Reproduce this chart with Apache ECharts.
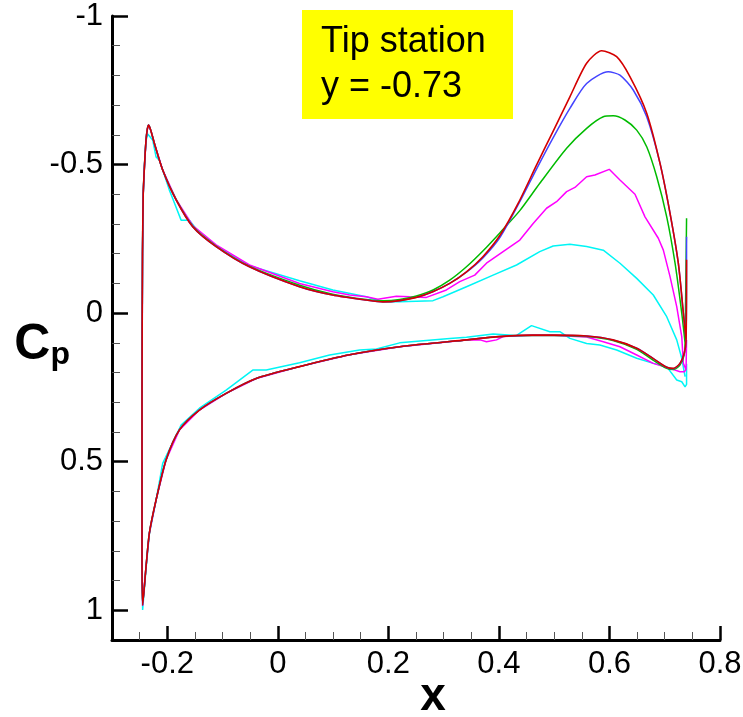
<!DOCTYPE html>
<html>
<head>
<meta charset="utf-8">
<script src="https://cdn.jsdelivr.net/npm/echarts@6/dist/echarts.min.js"></script>
<style>html,body{margin:0;padding:0;background:#fff;}#c{width:743px;height:717px;}</style>
</head>
<body>
<div id="c"></div>
<script>
// ---- axis ticks ----
const xMajorTicks = [-0.2, 0, 0.2, 0.4, 0.6, 0.8];
const xMinorTicks = [-0.25, -0.15, -0.1, -0.05, 0.05, 0.1, 0.15, 0.25, 0.3, 0.35, 0.45, 0.5, 0.55, 0.65, 0.7, 0.75];
const yMajorTicks = [-1, -0.5, 0, 0.5, 1];
const yMinorTicks = [-0.9, -0.8, -0.7, -0.6, -0.4, -0.3, -0.2, -0.1, 0.1, 0.2, 0.3, 0.4, 0.6, 0.7, 0.8, 0.9];

// ---- data: [x, Cp] ----
// red
const redLower = [[-0.2446,0.982],[-0.2384,0.853],[-0.2324,0.74],[-0.2203,0.629],[-0.2022,0.494],[-0.178,0.393],[-0.1418,0.326],[-0.0935,0.27],[-0.0391,0.22],[0.0393,0.18],[0.13,0.14],[0.2205,0.113],[0.3413,0.09],[0.4016,0.079],[0.4614,0.074],[0.4977,0.074],[0.5587,0.077],[0.6063,0.09],[0.6493,0.118],[0.6788,0.152],[0.7036,0.182],[0.7156,0.186],[0.7275,0.169],[0.7353,0.135],[0.7386,0.09]];
const redUpper = [[-0.2446,0.982],[-0.2457,0.8],[-0.2457,0.3],[-0.2448,-0.2],[-0.2435,-0.4],[-0.2413,-0.493],[-0.2384,-0.583],[-0.236,-0.62],[-0.2337,-0.633],[-0.229,-0.61],[-0.2234,-0.572],[-0.2083,-0.482],[-0.184,-0.381],[-0.154,-0.291],[-0.1116,-0.224],[-0.0513,-0.156],[0.0393,-0.089],[0.0991,-0.061],[0.16,-0.044],[0.19,-0.038],[0.2205,-0.042],[0.2507,-0.053],[0.2803,-0.072],[0.311,-0.1],[0.3413,-0.139],[0.371,-0.19],[0.402,-0.262],[0.435,-0.37],[0.468,-0.498],[0.498,-0.612],[0.5284,-0.728],[0.5587,-0.841],[0.586,-0.883],[0.613,-0.863],[0.637,-0.796],[0.6674,-0.673],[0.6915,-0.504],[0.7096,-0.336],[0.7246,-0.168],[0.7337,0.0],[0.7386,0.09]];
const redTE = [0.7395, -0.18];
// blue
const blueLower = [[-0.2446,0.982],[-0.2384,0.853],[-0.2324,0.74],[-0.2203,0.629],[-0.2022,0.494],[-0.178,0.393],[-0.1418,0.326],[-0.0935,0.27],[-0.0391,0.22],[0.0393,0.18],[0.13,0.14],[0.2205,0.113],[0.3413,0.09],[0.4016,0.079],[0.4614,0.074],[0.4977,0.074],[0.5587,0.077],[0.6063,0.09],[0.6493,0.118],[0.6788,0.152],[0.7036,0.183],[0.7156,0.187],[0.7275,0.17],[0.7353,0.136],[0.7386,0.09]];
const blueUpper = [[-0.2446,0.982],[-0.2457,0.8],[-0.2457,0.3],[-0.2448,-0.2],[-0.2435,-0.4],[-0.2413,-0.493],[-0.2384,-0.583],[-0.236,-0.62],[-0.2337,-0.633],[-0.229,-0.61],[-0.2234,-0.572],[-0.2083,-0.482],[-0.184,-0.381],[-0.154,-0.291],[-0.1116,-0.224],[-0.0513,-0.156],[0.0393,-0.089],[0.0991,-0.061],[0.16,-0.044],[0.19,-0.038],[0.2205,-0.042],[0.2507,-0.053],[0.2803,-0.072],[0.311,-0.1],[0.3413,-0.138],[0.371,-0.186],[0.402,-0.255],[0.4378,-0.375],[0.468,-0.485],[0.498,-0.59],[0.5284,-0.689],[0.5587,-0.773],[0.5978,-0.812],[0.619,-0.801],[0.643,-0.751],[0.6674,-0.661],[0.6915,-0.504],[0.7096,-0.336],[0.7246,-0.168],[0.7337,0.0],[0.7386,0.09]];
const blueTE = [0.7395, -0.257];
// green
const greenLower = [[-0.2446,0.982],[-0.2384,0.853],[-0.2324,0.74],[-0.2203,0.629],[-0.2022,0.494],[-0.178,0.393],[-0.1418,0.326],[-0.0935,0.27],[-0.0391,0.22],[0.0393,0.18],[0.13,0.14],[0.2205,0.113],[0.3413,0.09],[0.4016,0.079],[0.4614,0.075],[0.4977,0.075],[0.5587,0.079],[0.6063,0.092],[0.6493,0.122],[0.6788,0.158],[0.7036,0.186],[0.7156,0.19],[0.7275,0.175],[0.7353,0.14],[0.7368,0.10]];
const greenUpper = [[-0.2446,0.982],[-0.2457,0.8],[-0.2457,0.3],[-0.2448,-0.2],[-0.2435,-0.4],[-0.2413,-0.493],[-0.2384,-0.583],[-0.236,-0.62],[-0.2337,-0.633],[-0.229,-0.61],[-0.2234,-0.572],[-0.2083,-0.482],[-0.184,-0.383],[-0.154,-0.293],[-0.1116,-0.226],[-0.0513,-0.158],[0.0393,-0.094],[0.0991,-0.064],[0.16,-0.046],[0.19,-0.042],[0.2205,-0.046],[0.2507,-0.058],[0.2808,-0.078],[0.311,-0.111],[0.3413,-0.156],[0.3714,-0.21],[0.4016,-0.27],[0.4378,-0.345],[0.474,-0.437],[0.5225,-0.555],[0.5587,-0.622],[0.5888,-0.661],[0.6069,-0.664],[0.628,-0.65],[0.6493,-0.616],[0.6674,-0.56],[0.6855,-0.459],[0.7036,-0.324],[0.7187,-0.168],[0.7308,0.0],[0.7368,0.10]];
const greenTE = [0.7395, -0.319];
// magenta
const magentaLower = [[-0.2446,0.985],[-0.2384,0.853],[-0.2324,0.74],[-0.2203,0.629],[-0.2022,0.494],[-0.178,0.393],[-0.1418,0.326],[-0.0935,0.27],[-0.0391,0.22],[0.0393,0.18],[0.13,0.14],[0.2205,0.113],[0.3413,0.09],[0.366,0.09],[0.3775,0.096],[0.3957,0.09],[0.4076,0.079],[0.4614,0.074],[0.5043,0.075],[0.5587,0.08],[0.5888,0.096],[0.619,0.113],[0.6493,0.141],[0.6793,0.169],[0.7096,0.186],[0.7277,0.197],[0.7355,0.197],[0.7386,0.19]];
const magentaUpper = [[-0.2446,0.985],[-0.2457,0.8],[-0.2457,0.3],[-0.2448,-0.2],[-0.2435,-0.4],[-0.2413,-0.493],[-0.2384,-0.583],[-0.236,-0.62],[-0.2337,-0.633],[-0.229,-0.61],[-0.2234,-0.572],[-0.2083,-0.482],[-0.184,-0.383],[-0.154,-0.295],[-0.1116,-0.23],[-0.0513,-0.162],[0.0393,-0.1],[0.0996,-0.072],[0.13,-0.061],[0.16,-0.055],[0.181,-0.047],[0.2145,-0.057],[0.2386,-0.055],[0.2688,-0.053],[0.305,-0.078],[0.3292,-0.106],[0.3563,-0.128],[0.3775,-0.168],[0.4076,-0.207],[0.4378,-0.246],[0.462,-0.302],[0.4862,-0.353],[0.5043,-0.375],[0.5225,-0.409],[0.5375,-0.423],[0.5587,-0.459],[0.5737,-0.465],[0.5996,-0.484],[0.619,-0.448],[0.6462,-0.40],[0.6643,-0.324],[0.6884,-0.252],[0.6975,-0.212],[0.7096,-0.123],[0.7217,-0.022],[0.7308,0.079],[0.7337,0.169],[0.7386,0.19]];
const magentaTE = [0.7395, 0.09];
// cyan
const cyanLower = [[-0.2446,0.999],[-0.2384,0.86],[-0.2322,0.74],[-0.2203,0.63],[-0.2083,0.5055],[-0.175,0.377],[-0.1418,0.32],[-0.0935,0.259],[-0.0453,0.1915],[-0.021,0.1915],[0.0393,0.167],[0.0937,0.141],[0.148,0.124],[0.1783,0.121],[0.2205,0.10],[0.311,0.085],[0.3413,0.081],[0.3895,0.07],[0.4319,0.075],[0.459,0.042],[0.4922,0.0626],[0.5103,0.0626],[0.5284,0.085],[0.5587,0.102],[0.5826,0.107],[0.613,0.124],[0.6493,0.152],[0.6793,0.169],[0.7036,0.18],[0.7217,0.225],[0.7308,0.231],[0.7368,0.248],[0.7395,0.24]];
const cyanUpper = [[-0.2446,0.999],[-0.2457,0.8],[-0.2457,0.3],[-0.2448,-0.2],[-0.2435,-0.4],[-0.2413,-0.5],[-0.2384,-0.58],[-0.2355,-0.603],[-0.2337,-0.605],[-0.2264,-0.583],[-0.2203,-0.526],[-0.2143,-0.515],[-0.1962,-0.414],[-0.1902,-0.386],[-0.175,-0.313],[-0.16,-0.313],[-0.1418,-0.269],[-0.1297,-0.252],[-0.1116,-0.225],[-0.0513,-0.16],[0.0393,-0.109],[0.0996,-0.078],[0.16,-0.055],[0.19,-0.038],[0.2205,-0.038],[0.2808,-0.042],[0.2989,-0.055],[0.3413,-0.089],[0.3895,-0.128],[0.4319,-0.162],[0.4739,-0.207],[0.4982,-0.226],[0.5284,-0.232],[0.5587,-0.224],[0.5888,-0.212],[0.619,-0.168],[0.6493,-0.117],[0.6793,-0.061],[0.7036,0.012],[0.7217,0.09],[0.7308,0.152],[0.7368,0.214]];
const cyanTE = [0.7395, 0.17];

function loop(te, lower, upper) {
  return [te].concat(lower.slice().reverse(), upper);
}

const chart = echarts.init(document.getElementById('c'), null, {renderer: 'canvas'});
const FONT = '"Liberation Sans", Arial, Helvetica, sans-serif';
const lineSeries = (name, color, data, w, smooth) => ({
  name: name, type: 'line', data: data, showSymbol: false, symbol: 'none', smooth: smooth,
  lineStyle: {color: color, width: w}, itemStyle: {color: color},
  xAxisIndex: 0, yAxisIndex: 0, animation: false, clip: true, silent: true
});

const option = {
  animation: false,
  grid: {left: 112, right: 23, top: 16, bottom: 77, containLabel: false, outerBoundsMode: 'none'},
  xAxis: [
    {
      type: 'value', min: -0.3, max: 0.8, position: 'bottom',
      axisLine: {show: true, onZero: false, lineStyle: {color: '#000', width: 3}},
      axisTick: {show: true, inside: true, length: 14, customValues: xMajorTicks, lineStyle: {color: '#000', width: 2.5}},
      axisLabel: {show: true, customValues: xMajorTicks, margin: 9, color: '#000', fontSize: 31, fontFamily: FONT,
        formatter: v => String(Math.round(v * 10) / 10)},
      splitLine: {show: false},
      name: 'x', nameLocation: 'middle', nameGap: 34, nameMoveOverlap: false,
      nameTextStyle: {fontSize: 46, fontWeight: 'bold', color: '#000', fontFamily: FONT, padding: [0, 0, 0, 34]}
    },
    {
      type: 'value', min: -0.3, max: 0.8, position: 'bottom',
      axisLine: {show: false, onZero: false},
      axisTick: {show: true, inside: true, length: 8, customValues: xMinorTicks, lineStyle: {color: '#555', width: 1}},
      axisLabel: {show: false},
      splitLine: {show: false}
    }
  ],
  yAxis: [
    {
      type: 'value', min: -1, max: 1.1, inverse: true, position: 'left',
      axisLine: {show: true, onZero: false, lineStyle: {color: '#000', width: 3}},
      axisTick: {show: true, inside: true, length: 16, customValues: yMajorTicks, lineStyle: {color: '#000', width: 2.5}},
      axisLabel: {show: true, customValues: yMajorTicks, margin: 9, color: '#000', fontSize: 31, fontFamily: FONT,
        formatter: v => String(Math.round(v * 10) / 10)},
      splitLine: {show: false},
      name: '{c|C}{p|p}', nameLocation: 'middle', nameGap: 42, nameRotate: 0, nameMoveOverlap: false,
      nameTextStyle: {
        color: '#000', fontFamily: FONT, padding: [34, 0, 0, 0],
        rich: {
          c: {fontSize: 50, fontWeight: 'bold', fontFamily: FONT, color: '#000'},
          p: {fontSize: 32, fontWeight: 'bold', fontFamily: FONT, color: '#000', verticalAlign: 'bottom', padding: [20, 0, 0, 0]}
        }
      }
    },
    {
      type: 'value', min: -1, max: 1.1, inverse: true, position: 'left',
      axisLine: {show: false, onZero: false},
      axisTick: {show: true, inside: true, length: 8, customValues: yMinorTicks, lineStyle: {color: '#555', width: 1}},
      axisLabel: {show: false},
      splitLine: {show: false}
    }
  ],
  graphic: [
    {type: 'rect', left: 302, top: 10, shape: {width: 211, height: 109}, style: {fill: '#ffff00'}, z: 10},
    {type: 'text', left: 321, top: 20, z: 11,
      style: {text: 'Tip station\ny = -0.73', fill: '#000', font: '36px ' + FONT, lineHeight: 45}}
  ],
  series: [
    lineSeries('cyan', '#00f5f5', loop(cyanTE, cyanLower, cyanUpper), 1.5, false),
    lineSeries('magenta', '#ff00ff', loop(magentaTE, magentaLower, magentaUpper), 1.5, false),
    lineSeries('green', '#00bb00', loop(greenTE, greenLower, greenUpper), 1.5, 0.25),
    lineSeries('blue', '#4444ff', loop(blueTE, blueLower, blueUpper), 1.5, 0.25),
    lineSeries('red', '#d40000', loop(redTE, redLower, redUpper), 1.6, 0.25)
  ]
};
chart.setOption(option);
</script>
</body>
</html>
